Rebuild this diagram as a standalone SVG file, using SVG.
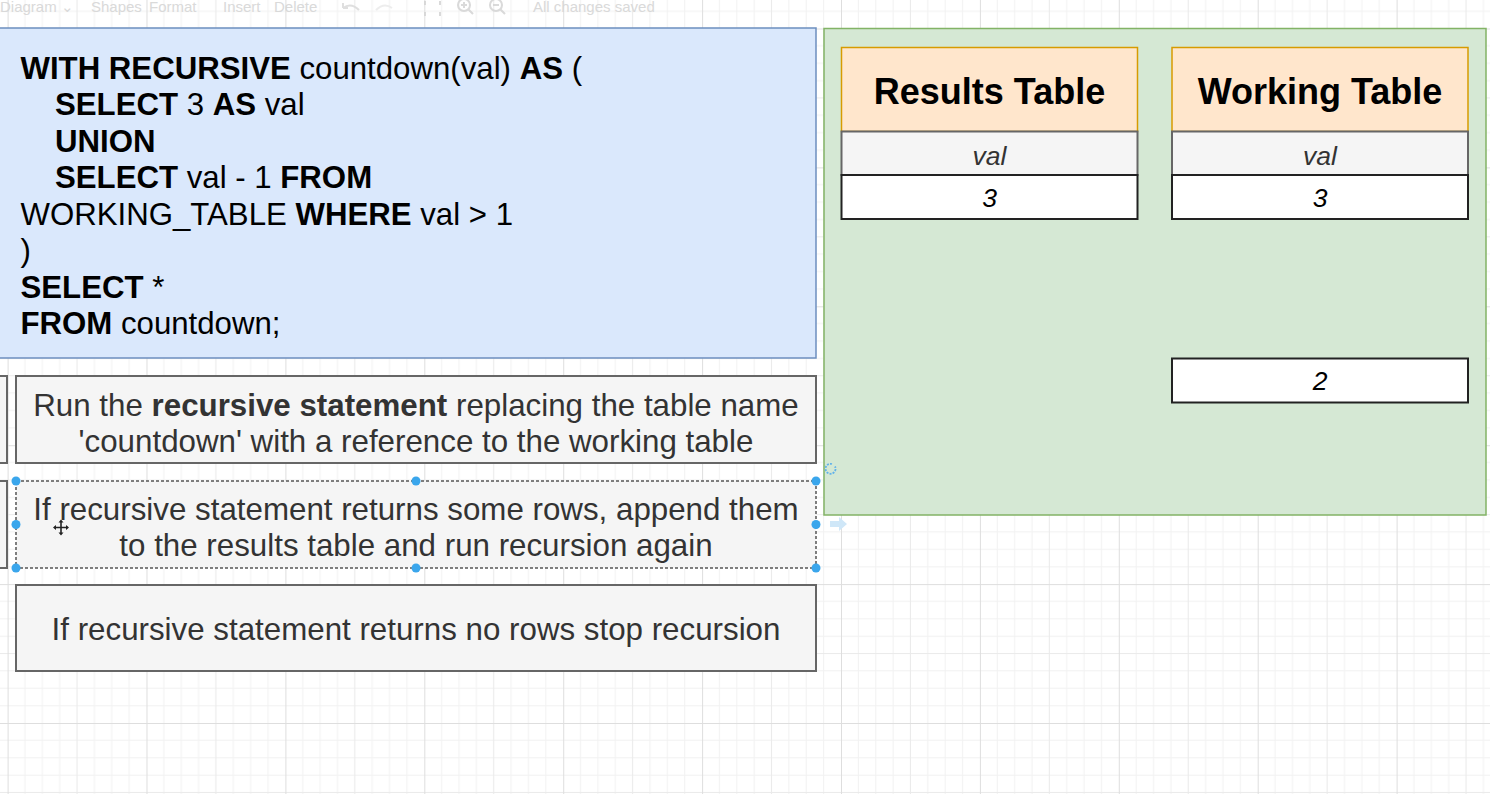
<svg xmlns="http://www.w3.org/2000/svg" width="1490" height="794" viewBox="0 0 1490 794">
<style>
.code{font-family:"Liberation Sans",Arial,Helvetica,sans-serif;font-size:31.2px;fill:#000}
.b{font-weight:bold}
.note{font-family:"Liberation Sans",Arial,Helvetica,sans-serif;font-size:31.3px;fill:#333;text-anchor:middle}
.hdr{font-family:"Liberation Sans",Arial,Helvetica,sans-serif;font-size:36px;font-weight:bold;fill:#000;text-anchor:middle}
.cell{font-family:"Liberation Sans",Arial,Helvetica,sans-serif;font-size:26.5px;font-style:italic;text-anchor:middle}
.gray{fill:#f5f5f5;stroke:#666;stroke-width:2}
.hbox{fill:#ffe6cc;stroke:#d79b00;stroke-width:1.5}
.vbox{fill:#ffffff;stroke:#222;stroke-width:2}
.tb{font-family:"Liberation Sans",Arial,Helvetica,sans-serif;font-size:15px;fill:#d6d6d6}
.handle{fill:#3aa6ec}
</style>
<defs>
<pattern id="grid" patternUnits="userSpaceOnUse" x="7.6" y="28.5" width="138.9" height="138.9">
<rect width="138.9" height="138.9" fill="#ffffff"/>
<path d="M17.36 0V138.9M34.73 0V138.9M52.09 0V138.9M86.81 0V138.9M104.18 0V138.9M121.54 0V138.9M0 17.36H138.9M0 34.73H138.9M0 52.09H138.9M0 86.81H138.9M0 104.18H138.9M0 121.54H138.9" stroke="#f2f2f2" stroke-width="1" fill="none"/>
<path d="M69.45 0V138.9M0 69.45H138.9" stroke="#eaeaea" stroke-width="1" fill="none"/>
<path d="M0.5 0V138.9M0 0.5H138.9" stroke="#dedede" stroke-width="1" fill="none"/>
</pattern>
</defs>
<rect x="0" y="0" width="1490" height="794" fill="url(#grid)"/>

<g id="toolbar" opacity="0.9">
<text class="tb" x="0" y="12">Diagram ⌄</text>
<text class="tb" x="91" y="12">Shapes</text>
<text class="tb" x="149" y="12">Format</text>
<text class="tb" x="223" y="12">Insert</text>
<text class="tb" x="274" y="12">Delete</text>
<path d="M343 8 q8 -6 16 2 M343 8 l0 -5 M343 8 l5 0" stroke="#dcdcdc" stroke-width="2" fill="none"/>
<path d="M392 8 q-8 -6 -16 2" stroke="#ececec" stroke-width="2" fill="none"/>
<path d="M425 1v4M425 12v4M440 1v4M440 12v4" stroke="#d6d6d6" stroke-width="2" fill="none"/>
<circle cx="464" cy="5" r="6" stroke="#d6d6d6" stroke-width="2" fill="none"/>
<path d="M468 9 l5 5 M461 5 h6 M464 2 v6" stroke="#d6d6d6" stroke-width="2" fill="none"/>
<circle cx="496" cy="5" r="6" stroke="#d6d6d6" stroke-width="2" fill="none"/>
<path d="M500 9 l5 5 M493 5 h6" stroke="#d6d6d6" stroke-width="2" fill="none"/>
<text class="tb" x="533" y="12">All changes saved</text>
</g>

<g id="connectors"></g>

<g id="left-partial-1"><rect x="-100" y="376" width="107" height="87" class="gray"/></g>
<g id="left-partial-2"><rect x="-100" y="481" width="107" height="87" class="gray"/></g>

<g id="sql-box">
<rect x="-10" y="28" width="826" height="330" fill="#dae8fc" stroke="#6c8ebf" stroke-width="1.5"/>
<text class="code" x="20.5" y="78.5"><tspan class="b">WITH RECURSIVE</tspan> countdown(val) <tspan class="b">AS</tspan> (</text>
<text class="code" x="55" y="115"><tspan class="b">SELECT</tspan> 3 <tspan class="b">AS</tspan> val</text>
<text class="code" x="55" y="151.5"><tspan class="b">UNION</tspan></text>
<text class="code" x="55" y="188"><tspan class="b">SELECT</tspan> val - 1 <tspan class="b">FROM</tspan></text>
<text class="code" x="20.5" y="224.5">WORKING_TABLE <tspan class="b">WHERE</tspan> val &gt; 1</text>
<text class="code" x="20.5" y="261">)</text>
<text class="code" x="20.5" y="297.5"><tspan class="b">SELECT</tspan> *</text>
<text class="code" x="20.5" y="334"><tspan class="b">FROM</tspan> countdown;</text>
</g>

<g id="step-1">
<rect x="16" y="376" width="800" height="87" class="gray"/>
<text class="note" x="416" y="415.5">Run the <tspan font-weight="bold">recursive statement</tspan> replacing the table name</text>
<text class="note" x="416" y="451.5">'countdown' with a reference to the working table</text>
</g>

<g id="step-2">
<rect x="16" y="481" width="800" height="87" fill="#f5f5f5" stroke="#555" stroke-width="1.5" stroke-dasharray="3 2"/>
<text class="note" x="416" y="519.5">If recursive statement returns some rows, append them</text>
<text class="note" x="416" y="555.5">to the results table and run recursion again</text>
</g>

<g id="step-3">
<rect x="16" y="585" width="800" height="86" class="gray"/>
<text class="note" x="416" y="640">If recursive statement returns no rows stop recursion</text>
</g>

<g id="tables-container">
<rect x="824" y="28.5" width="662" height="486.5" fill="#d5e8d4" stroke="#82b366" stroke-width="1.5"/>
</g>

<g id="results-table">
<rect x="841.5" y="47.5" width="296" height="84" class="hbox"/>
<text class="hdr" x="989.5" y="103.5">Results Table</text>
<rect x="841.5" y="131.5" width="296" height="43.5" class="gray"/>
<text class="cell" x="989.5" y="164.5" fill="#333">val</text>
<rect x="841.5" y="175" width="296" height="44" class="vbox"/>
<text class="cell" x="989.5" y="207" fill="#000">3</text>
</g>

<g id="working-table">
<rect x="1172" y="47.5" width="296" height="84" class="hbox"/>
<text class="hdr" x="1320" y="103.5">Working Table</text>
<rect x="1172" y="131.5" width="296" height="43.5" class="gray"/>
<text class="cell" x="1320" y="164.5" fill="#333">val</text>
<rect x="1172" y="175" width="296" height="44" class="vbox"/>
<text class="cell" x="1320" y="207" fill="#000">3</text>
</g>

<g id="working-row-2">
<rect x="1172" y="358.5" width="296" height="44" class="vbox"/>
<text class="cell" x="1320" y="390" fill="#000">2</text>
</g>

<g id="selection">
<circle class="handle" cx="16" cy="481" r="4.5"/>
<circle class="handle" cx="416" cy="481" r="4.5"/>
<circle class="handle" cx="816" cy="481" r="4.5"/>
<circle class="handle" cx="16" cy="524.5" r="4.5"/>
<circle class="handle" cx="816" cy="524.5" r="4.5"/>
<circle class="handle" cx="16" cy="568" r="4.5"/>
<circle class="handle" cx="416" cy="568" r="4.5"/>
<circle class="handle" cx="816" cy="568" r="4.5"/>
<path d="M832 464 a5 5 0 1 0 3 2.5" stroke="#62b2ea" stroke-width="1.8" fill="none" stroke-dasharray="2 1.2"/>
<path d="M830 521 h9 v-4 l8 7 l-8 7 v-4 h-9 z" fill="#cfe7f8"/>
<path d="M61 521 v13 M54.5 527.5 h13" stroke="#222" stroke-width="1.6"/>
<path d="M61 519.5 l-2.5 3 h5 z M61 535.5 l-2.5 -3 h5 z M53 527.5 l3 -2.5 v5 z M69 527.5 l-3 -2.5 v5 z" fill="#222"/>
</g>
</svg>
